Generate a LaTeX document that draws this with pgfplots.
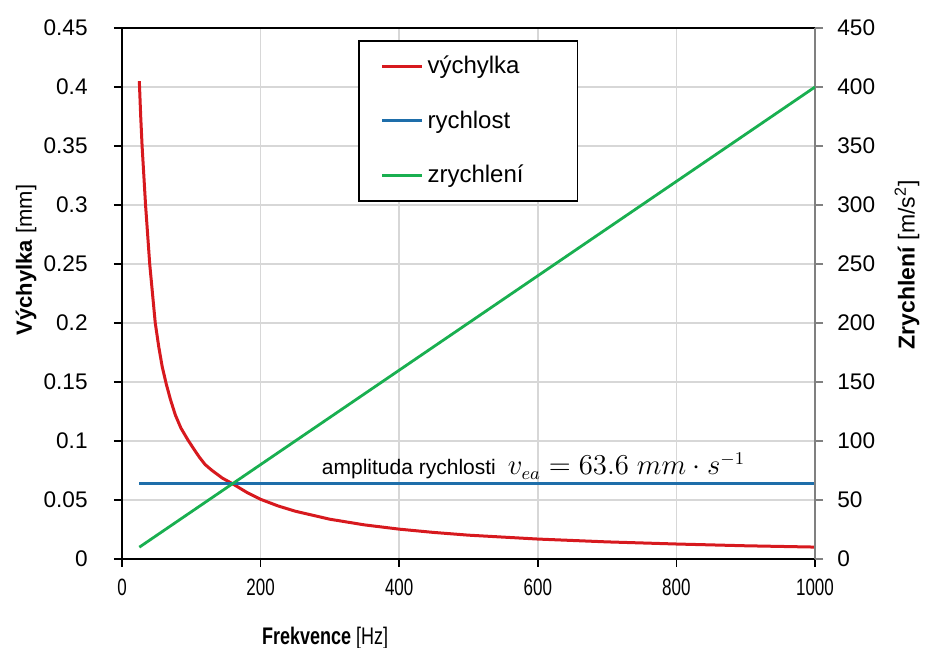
\documentclass[border=0pt]{standalone}
\usepackage{fontspec}
\setmainfont{Liberation Sans}
\newfontfamily\narrowfont[FakeStretch=0.72]{Liberation Sans}
\newfontfamily\xlabfont[FakeStretch=0.75]{Liberation Sans}
\usepackage{pgfplots}
\pgfplotsset{compat=1.18}
\definecolor{cred}{RGB}{215,25,30}
\definecolor{cblue}{RGB}{30,110,170}
\definecolor{cgreen}{RGB}{25,175,80}
\definecolor{cgrid}{RGB}{215,215,215}
\begin{document}
\begin{tikzpicture}
\begin{axis}[name=ax, scale only axis, width=346.5pt, height=265.5pt,
  xmin=0, xmax=1000, ymin=0, ymax=0.45,
  axis x line*=box, axis y line*=left,
  axis line style={black, line width=0.8pt},
  xtick={0,200,400,600,800,1000},
  xticklabels={0,200,400,600,800,1000},
  ytick={0,0.05,0.1,0.15,0.2,0.25,0.3,0.35,0.4,0.45},
  yticklabels={0,0.05,0.1,0.15,0.2,0.25,0.3,0.35,0.4,0.45},
  xtick pos=bottom, ytick pos=left,
  tick align=outside, major tick length=4pt,
  tick style={black, line width=0.8pt},
  grid=major, grid style={cgrid, line width=0.7pt},
  yticklabel style={font=\fontsize{11.3}{13}\selectfont, anchor=east, inner sep=0pt, xshift=-13pt},
  xticklabel style={font=\narrowfont\fontsize{11.8}{13}\selectfont, anchor=north, inner sep=0pt, yshift=-6pt},
  xlabel={\textbf{Frekvence} [Hz]},
  xlabel style={font=\xlabfont\fontsize{12}{13}\selectfont, at={(rel axis cs:0.293,0)}, anchor=base, yshift=-43pt},
  ylabel={\textbf{Výchylka} [mm]},
  ylabel style={font=\fontsize{11}{13}\selectfont, at={(rel axis cs:0,0.563)}, anchor=center, yshift=48pt},
  legend style={at={(rel axis cs:0.3405,0.977)}, anchor=north west, draw=black, line width=0.8pt,
    font=\fontsize{12}{14}\selectfont, row sep=13pt, inner xsep=11pt, inner ysep=5.5pt, cells={anchor=west}},
  legend image code/.code={\draw[#1, line width=1.4pt] (0pt,0pt) -- (20pt,0pt);},
]
\addplot[color=cred, line width=1.5pt] coordinates {
(25,0.405) (27,0.375) (29,0.350) (31.5,0.325) (34,0.300) (37,0.275) (40,0.250)
(44,0.225) (48,0.200) (53,0.180) (58,0.163) (64,0.148) (70,0.135) (77,0.122)
(85,0.111) (95,0.101) (105,0.092) (112,0.086) (120,0.080) (130,0.075) (145,0.0685)
(160,0.0636) (180,0.0565) (200,0.0506) (225,0.045) (250,0.0405) (300,0.0337)
(350,0.0289) (400,0.0253) (450,0.0225) (500,0.0202) (600,0.0169) (700,0.0145)
(800,0.0127) (900,0.0112) (1000,0.0101)};
\addlegendentry{\makebox[62pt][l]{výchylka}}
\addplot[color=cblue, line width=1.5pt] coordinates {(25,0.0636) (1000,0.0636)};
\addlegendentry{\makebox[62pt][l]{rychlost}}
\addlegendimage{color=cgreen, line width=1.4pt}
\addlegendentry{\makebox[62pt][l]{zrychlení}}
\node[anchor=base west, inner sep=0pt] at (axis cs:288,0.0712)
  {\fontsize{10.5}{12}\selectfont amplituda rychlosti\hspace{6pt}{\fontsize{13.5}{15}\selectfont $v_{ea} = 63.6\;mm\cdot s^{-1}$}};
\end{axis}
\begin{axis}[scale only axis, width=346.5pt, height=265.5pt,
  xmin=0, xmax=1000, ymin=0, ymax=450,
  axis x line=none, axis y line*=right,
  y axis line style={gray, line width=0.8pt},
  ytick={0,50,100,150,200,250,300,350,400,450},
  yticklabels={0,50,100,150,200,250,300,350,400,450},
  tick align=outside, major tick length=4pt,
  ytick style={gray, line width=0.8pt},
  yticklabel style={font=\fontsize{11.3}{13}\selectfont, anchor=west, inner sep=0pt, xshift=7pt},
  ylabel={\textbf{Zrychlení} [m/s\textsuperscript{2}]},
  ylabel style={font=\fontsize{11.5}{13}\selectfont, at={(rel axis cs:1,0.554)}, anchor=center, yshift=-46pt},
]
\addplot[color=cgreen, line width=1.4pt] coordinates {(25,10) (1000,400)};
\end{axis}
\pgfresetboundingbox
\path (ax.south west) ++(-61pt,-44.5pt) rectangle ([xshift=56pt,yshift=14pt]ax.north east);
\end{tikzpicture}
\end{document}
